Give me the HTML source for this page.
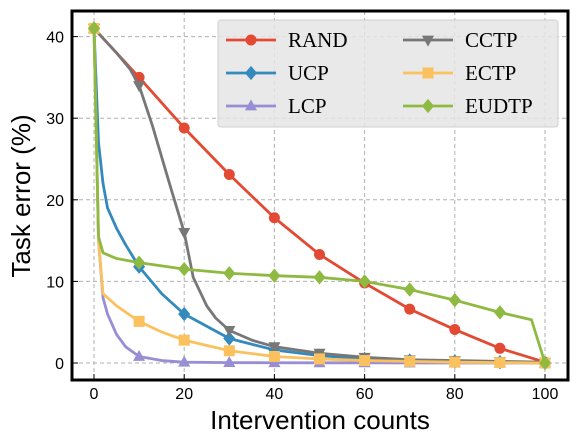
<!DOCTYPE html>
<html><head><meta charset="utf-8"><style>body{margin:0;background:#fff}svg{display:block}</style></head>
<body>
<svg id="c" width="577" height="446" xmlns="http://www.w3.org/2000/svg" font-family="Liberation Sans, sans-serif"></svg>
<script>
const xTicks=[0,20,40,60,80,100];
const yTicks=[0,10,20,30,40];
const randX=[0,10,20,30,40,50,60,70,80,90,100];
const randY=[41,35,28.8,23.1,17.8,13.3,9.8,6.6,4.1,1.8,0.1];
const ucpX=[0,1,2,3,5,7,10,15,20,25,30,40,50,60,70,80,90,100];
const ucpY=[41,27,22,19,16.5,14.5,11.8,8.5,6,4.5,3,1.6,0.9,0.5,0.3,0.2,0.1,0];
const lcpX=[0,1,2,3,5,7,10,15,20,30,40,50,60,70,80,90,100];
const lcpY=[41,15,8,6,3.5,2,0.8,0.3,0.1,0.05,0.03,0.02,0.02,0.01,0.01,0,0];
const cctpX=[0,5,8,10,13,17,20,22,25,27,30,35,40,50,60,70,80,90,100];
const cctpY=[41,38,36,34,29,21.5,16,10.5,7,5.5,4,2.8,2,1.2,0.7,0.4,0.3,0.2,0.1];
const ectpX=[0,1,2,5,10,15,20,30,40,50,60,70,80,90,100];
const ectpY=[41,15,8.5,7,5.1,3.8,2.8,1.5,0.8,0.5,0.3,0.2,0.1,0.05,0];
const eudX=[0,1,2,5,10,20,30,40,50,60,70,80,90,97,100];
const eudY=[41,15.5,13.5,12.8,12.3,11.5,11,10.7,10.5,10,9,7.7,6.2,5.3,0];
const NS="http://www.w3.org/2000/svg";
const svg=document.getElementById('c');
const L=72,R=568,T=11,B=380;
const sx=v=>94+v*4.51, sy=v=>363-v*8.16;
function el(t,a,p){const e=document.createElementNS(NS,t);for(const k in a)e.setAttribute(k,a[k]);(p||svg).appendChild(e);return e;}
xTicks.forEach(v=>{const g=el('line',{x1:sx(v),x2:sx(v),y1:T,y2:B,stroke:'#b0b0b0','stroke-dasharray':'4,3'});
 el('line',{x1:sx(v),x2:sx(v),y1:B,y2:B-6,stroke:'#000'});
 const t=el('text',{x:sx(v),y:B+19,'text-anchor':'middle','font-size':16});t.textContent=v;});
yTicks.forEach(v=>{const g=el('line',{x1:L,x2:R,y1:sy(v),y2:sy(v),stroke:'#b0b0b0','stroke-dasharray':'4,3'});
 el('line',{x1:L,x2:L+6,y1:sy(v),y2:sy(v),stroke:'#000'});
 const t=el('text',{x:L-8,y:sy(v)+6,'text-anchor':'end','font-size':16});t.textContent=v;});
function marker(type,x,y,c,s){let e;
 if(type==='o')e=el('circle',{cx:x,cy:y,r:s,fill:c});
 else if(type==='D')e=el('polygon',{points:`${x},${y-s*1.3} ${x+s*1.1},${y} ${x},${y+s*1.3} ${x-s*1.1},${y}`,fill:c});
 else if(type==='^')e=el('polygon',{points:`${x},${y-s*1.2} ${x+s*1.1},${y+s*0.8} ${x-s*1.1},${y+s*0.8}`,fill:c});
 else if(type==='v')e=el('polygon',{points:`${x},${y+s*1.2} ${x+s*1.1},${y-s*0.8} ${x-s*1.1},${y-s*0.8}`,fill:c});
 else e=el('rect',{x:x-s,y:y-s,width:2*s,height:2*s,fill:c});
 }
const series=[['RAND',randX,randY,'#e24a33','o'],['UCP',ucpX,ucpY,'#348abd','D'],['LCP',lcpX,lcpY,'#988ed5','^'],['CCTP',cctpX,cctpY,'#777777','v'],['ECTP',ectpX,ectpY,'#fbc15e','s'],['EUDTP',eudX,eudY,'#8eba42','D']];
series.forEach(([n,xs,ys,c,m])=>{const p=el('polyline',{points:xs.map((x,i)=>sx(x)+','+sy(ys[i])).join(' '),fill:'none',stroke:c,'stroke-width':2.8,'stroke-linejoin':'round'});
 
 xs.forEach((x,i)=>{if(x%10===0)marker(m,sx(x),sy(ys[i]),c,5.5);});});
const f=el('rect',{x:L,y:T,width:R-L,height:B-T,fill:'none',stroke:'#000','stroke-width':3});
const lg=el('g',{});
el('rect',{x:218,y:20,width:340,height:107,rx:3,fill:'#e5e5e5','fill-opacity':0.85,stroke:'#d0d0d0'},lg);
series.forEach(([n,xs,ys,c,m],i)=>{const col=Math.floor(i/3),row=i%3;const x0=226+col*177,y0=40+row*33;
 el('line',{x1:x0,x2:x0+50,y1:y0,y2:y0,stroke:c,'stroke-width':2.8},lg);marker(m,x0+25,y0,c,5.5);
 const t=el('text',{x:x0+62,y:y0+7,'font-size':21,'font-family':'Liberation Serif, serif'},lg);t.textContent=n;});
const xl=el('text',{x:320,y:429,'text-anchor':'middle','font-size':26});xl.textContent='Intervention counts';
const yl=el('text',{x:0,y:0,'text-anchor':'middle','font-size':26,transform:'translate(30,196) rotate(-90)'});yl.textContent='Task error (%)';
</script>
</body></html>
